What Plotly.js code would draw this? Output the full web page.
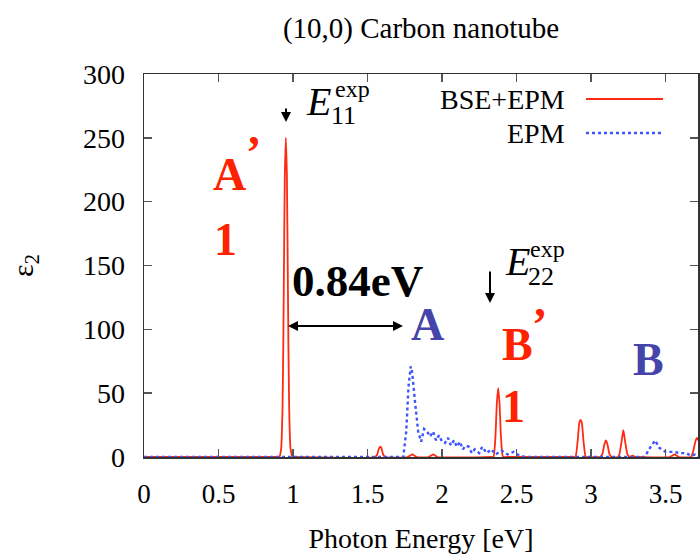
<!DOCTYPE html>
<html>
<head>
<meta charset="utf-8">
<script src="https://cdn.plot.ly/plotly-3.0.1.min.js"></script>
<style>html,body{margin:0;padding:0;background:#fff;}#chart{width:700px;height:554px;}</style>
</head>
<body>
<div id="chart"></div>
<script>
// ---- Data ----
const bseEnergy = [0, 0.90, 0.908, 0.92, 0.93, 0.938, 0.945, 0.952, 0.959, 0.966, 0.974, 0.984, 0.998, 1.02,
  1.55, 1.565, 1.578, 1.59, 1.605, 1.62, 1.77, 1.785, 1.80, 1.815, 1.83, 1.91, 1.925, 1.94, 1.955, 1.97,
  2.33, 2.345, 2.358, 2.368, 2.377, 2.386, 2.396, 2.41, 2.43,
  2.88, 2.895, 2.91, 2.922, 2.93, 2.938, 2.95, 2.965, 2.98,
  3.06, 3.075, 3.09, 3.10, 3.11, 3.125, 3.14,
  3.18, 3.19, 3.205, 3.217, 3.229, 3.245, 3.26, 3.28, 3.30, 3.32,
  3.53, 3.545, 3.56, 3.575, 3.59, 3.67, 3.685, 3.70, 3.71, 3.72];
const bseEps2 = [0, 0, 0, 6, 40, 130, 220, 250, 220, 130, 40, 6, 0, 0,
  0, 2, 7, 8, 2, 0, 0, 1, 2, 1, 0, 0, 1, 2, 1, 0,
  0, 0, 15, 42, 54, 42, 15, 0, 0,
  0, 0, 12, 27, 29, 27, 12, 0, 0,
  0, 2, 10, 13, 10, 2, 0,
  0, 2, 12, 21, 12, 2, 0, 1, 0, 0,
  0, 1, 2, 1, 0, 0, 4, 12, 15, 13];

const epmEnergy = [0, 1.74, 1.76, 1.775, 1.79, 1.80, 1.82, 1.84, 1.86, 1.88, 1.90, 1.92, 1.94, 1.96, 1.98,
  2.00, 2.02, 2.04, 2.06, 2.08, 2.10, 2.12, 2.14, 2.16, 2.18, 2.20, 2.22, 2.25, 2.27, 2.30, 2.33,
  2.36, 2.40, 2.44, 2.48, 2.52, 2.56, 3.36, 3.40, 3.43, 3.46, 3.50, 3.55, 3.60, 3.64, 3.67, 3.70, 3.73];
const epmEps2 = [0, 0, 20, 55, 71, 66, 42, 20, 12, 22, 20, 16, 20, 13, 17,
  12, 11, 15, 9, 13, 8, 12, 6, 9, 8, 3, 6, 3, 8, 3, 6,
  2, 5, 2, 4, 1, 0, 0, 8, 13, 7, 4, 4, 3, 3, 1, 2, 0];

const xTickVals = [0, 0.5, 1, 1.5, 2, 2.5, 3, 3.5];
const xTickText = ['0', '0.5', '1', '1.5', '2', '2.5', '3', '3.5'];
const yTickVals = [0, 50, 100, 150, 200, 250, 300];
const yTickText = ['0', '50', '100', '150', '200', '250', '300'];
const seriesNames = ['BSE+EPM', 'EPM'];

// ---- Layout helpers (pixel -> paper) ----
const L = 144, R = 698, T = 74, B = 457;
const px = x => (x - L) / (R - L);
const py = y => (B - y) / (B - T);
const serif = 'Liberation Serif';
const RED = '#ff2a12', BLUE = '#3c55ff', TXTRED = '#ff2200', TXTBLUE = '#4444aa';

const traces = [
  {x: bseEnergy, y: bseEps2, name: seriesNames[0], mode: 'lines', line: {color: RED, width: 1.8, shape: 'spline', smoothing: 0.6}},
  {x: epmEnergy, y: epmEps2, name: seriesNames[1], mode: 'lines', line: {color: BLUE, width: 2.4, dash: 'dot'}}
];

function txt(text, x, y, size, color, opts) {
  return Object.assign({text: text, xref: 'paper', yref: 'paper', x: px(x), y: py(y),
    xanchor: 'center', yanchor: 'middle', showarrow: false,
    font: {family: serif, size: size, color: color}}, opts || {});
}

const annotations = [
  // legend
  txt(seriesNames[0], 567, 99, 28, '#000', {xanchor: 'right'}),
  txt(seriesNames[1], 567, 133, 28, '#000', {xanchor: 'right'}),
  // labels
  txt('<b>A</b>', 229, 174, 46, TXTRED),
  txt('<b>’</b>', 253, 152, 46, TXTRED),
  txt('<b>1</b>', 225, 240, 46, TXTRED),
  txt('<b>B</b>', 517, 344, 46, TXTRED),
  txt('<b>’</b>', 539, 324, 46, TXTRED),
  txt('<b>1</b>', 513, 406, 46, TXTRED),
  txt('<b>A</b>', 427, 324, 46, TXTBLUE),
  txt('<b>B</b>', 648, 359, 46, TXTBLUE),
  txt('<b>0.84eV</b>', 357, 281, 45, '#000'),
  // E11 exp
  txt('<i>E</i>', 318, 101, 40, '#000'),
  txt('exp', 352, 89, 24, '#000'),
  txt('11', 343, 115, 26, '#000'),
  // E22 exp
  txt('<i>E</i>', 517, 261, 40, '#000'),
  txt('exp', 547, 249, 24, '#000'),
  txt('22', 541, 276, 26, '#000'),
  // arrows
  {xref: 'x', yref: 'y', x: (286 - L) / 149, y: (B - 122) / 1.2767, ax: 0, ay: -22, text: ' ',
    showarrow: true, arrowhead: 2, arrowsize: 1, arrowwidth: 2, arrowcolor: '#000'},
  {xref: 'x', yref: 'y', x: (490 - L) / 149, y: (B - 303) / 1.2767, ax: 0, ay: -40, text: ' ',
    showarrow: true, arrowhead: 2, arrowsize: 1, arrowwidth: 2, arrowcolor: '#000'},
  {xref: 'x', yref: 'y', x: (403 - L) / 149, y: (B - 326) / 1.2767, ax: -118, ay: 0, text: ' ',
    showarrow: true, arrowhead: 2, startarrowhead: 2, arrowside: 'end+start', arrowsize: 1, arrowwidth: 2, arrowcolor: '#000'}
];

const shapes = [
  {type: 'line', xref: 'paper', yref: 'paper', x0: px(586), x1: px(663), y0: py(99), y1: py(99), line: {color: RED, width: 2}},
  {type: 'line', xref: 'paper', yref: 'paper', x0: px(586), x1: px(663), y0: py(133), y1: py(133), line: {color: BLUE, width: 2.4, dash: 'dot'}}
];

const layout = {
  width: 700, height: 554,
  margin: {l: L, r: 700 - R, t: T, b: 554 - B},
  paper_bgcolor: '#fff', plot_bgcolor: '#fff',
  showlegend: false,
  font: {family: serif, color: '#000'},
  title: {text: '(10,0) Carbon nanotube', font: {family: serif, size: 29, color: '#000'},
    x: 0.5, xref: 'paper', xanchor: 'center', y: 1 - 28 / 554, yref: 'container', yanchor: 'middle'},
  xaxis: {range: [0, 3.718], tickvals: xTickVals, ticktext: xTickText, ticks: 'inside', ticklen: 8,
    tickcolor: '#555', tickwidth: 1.5, showline: true, linecolor: '#333', linewidth: 1.5, mirror: 'ticks',
    showgrid: false, zeroline: false, tickfont: {family: serif, size: 27, color: '#000'}, ticklabelstandoff: 12,
    title: {text: 'Photon Energy [eV]', font: {family: serif, size: 28, color: '#000'}, standoff: 26}},
  yaxis: {range: [0, 300], tickvals: yTickVals, ticktext: yTickText, ticks: 'inside', ticklen: 8,
    tickcolor: '#555', tickwidth: 1.5, showline: true, linecolor: '#333', linewidth: 1.5, mirror: 'ticks',
    showgrid: false, zeroline: false, tickfont: {family: serif, size: 28, color: '#000'}, ticklabelstandoff: 12,
    title: {text: 'ε<sub>2</sub>', font: {family: serif, size: 30, color: '#000'}, standoff: 40}},
  annotations: annotations,
  shapes: shapes
};

Plotly.newPlot('chart', traces, layout, {displayModeBar: false, staticPlot: true});
</script>
</body>
</html>
